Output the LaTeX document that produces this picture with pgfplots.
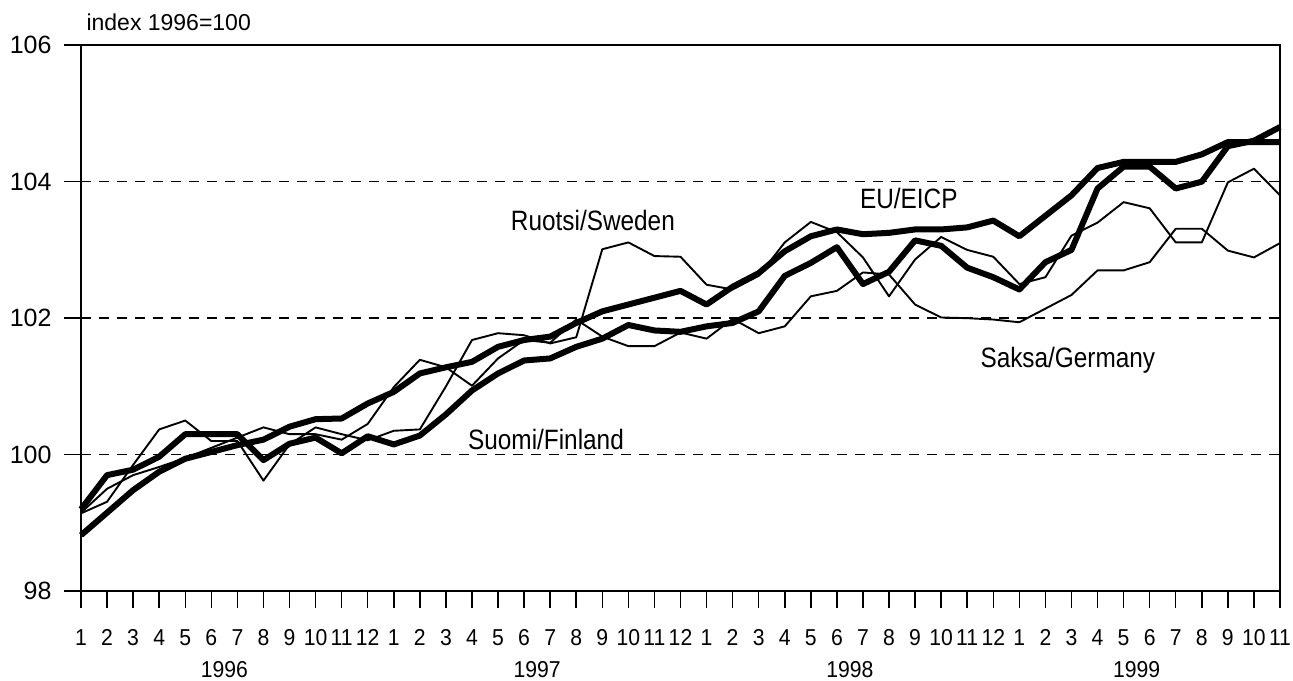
\documentclass[border=0pt]{standalone}
\usepackage{fontspec}
\setmainfont{Liberation Sans}
\newfontfamily\narrowfont{Liberation Sans}[FakeStretch=0.87]
\newfontfamily\ticksfont{Liberation Sans}[FakeStretch=0.92]
\usepackage{pgfplots}
\usepackage{pgfplotstable}
\pgfplotsset{compat=1.18}

\pgfplotstableread{
i  eu     fi     se     de
0  98.82  99.20  99.14  99.15
1  99.15  99.70  99.31  99.50
2  99.48  99.78  99.85  99.70
3  99.75  99.97  100.37 99.82
4  99.94  100.30 100.50 99.95
5  100.04 100.30 100.20 100.10
6  100.14 100.30 100.20 100.25
7  100.22 99.92  99.62  100.40
8  100.41 100.16 100.15 100.30
9  100.52 100.25 100.40 100.30
10 100.53 100.02 100.30 100.22
11 100.75 100.27 100.21 100.45
12 100.92 100.15 100.35 100.99
13 101.19 100.28 100.37 101.39
14 101.28 100.59 101.00 101.28
15 101.36 100.94 101.68 101.01
16 101.58 101.19 101.78 101.41
17 101.68 101.38 101.75 101.68
18 101.73 101.41 101.63 101.64
19 101.93 101.58 101.72 101.98
20 102.10 101.70 103.01 101.73
21 102.20 101.90 103.11 101.59
22 102.30 101.82 102.91 101.59
23 102.40 101.80 102.90 101.79
24 102.20 101.88 102.49 101.70
25 102.46 101.93 102.42 101.99
26 102.66 102.10 102.62 101.78
27 102.98 102.62 103.11 101.88
28 103.20 102.81 103.41 102.32
29 103.30 103.04 103.26 102.40
30 103.23 102.50 102.89 102.67
31 103.25 102.68 102.32 102.64
32 103.30 103.14 102.86 102.20
33 103.30 103.06 103.19 102.01
34 103.33 102.74 103.00 102.00
35 103.43 102.60 102.90 101.98
36 103.20 102.42 102.50 101.94
37 103.50 102.82 102.60 102.14
38 103.80 103.00 103.21 102.34
39 104.20 103.90 103.40 102.70
40 104.29 104.22 103.70 102.70
41 104.29 104.22 103.61 102.82
42 104.29 103.90 103.11 103.31
43 104.40 104.00 103.11 103.31
44 104.58 104.52 103.99 102.99
45 104.58 104.60 104.19 102.89
46 104.58 104.80 103.80 103.10
}\datatable

\begin{document}
\begin{tikzpicture}
\useasboundingbox (0,0) rectangle (1293pt,680pt);
\begin{axis}[
  at={(81pt,89pt)}, anchor=south west,
  scale only axis, width=1199pt, height=546pt,
  xmin=0, xmax=46, ymin=98, ymax=106,
  xtick={0,...,46},
  xticklabels={1,2,3,4,5,6,7,8,9,10,11,12,1,2,3,4,5,6,7,8,9,10,11,12,1,2,3,4,5,6,7,8,9,10,11,12,1,2,3,4,5,6,7,8,9,10,11},
  ytick={98,100,102,104,106},
  yticklabels={98,100,102,104,106},
  xtick pos=bottom, ytick pos=left,
  tick align=outside,
  major tick length=17pt,
  tick style={line width=1.5pt, black},
  axis line style={line width=2pt, black},
  ymajorgrids,
  grid style={dash pattern=on 10pt off 8pt, line width=1.6pt, black},
  xticklabel style={font=\fontsize{23}{23}\selectfont\ticksfont, anchor=base, yshift=-37pt},
  yticklabel style={font=\fontsize{25}{25}\selectfont, anchor=east, xshift=-9pt},
  clip=false,
]
\addplot[black, line width=1.9pt, line join=round] table[x=i, y=se] {\datatable};
\addplot[black, line width=1.9pt, line join=round] table[x=i, y=de] {\datatable};
\addplot[black, line width=6pt, line join=round] table[x=i, y=eu] {\datatable};
\addplot[black, line width=6pt, line join=round] table[x=i, y=fi] {\datatable};

\node[anchor=base west, xshift=2pt, yshift=15pt, font=\fontsize{23}{23}\selectfont] at (axis cs:0,106) {index 1996=100};

\node[anchor=base, font=\fontsize{28}{28}\selectfont\narrowfont] at (axis cs:19.64,103.29) {Ruotsi/Sweden};
\node[anchor=base, font=\fontsize{28}{28}\selectfont\narrowfont] at (axis cs:31.76,103.61) {EU/EICP};
\node[anchor=base, font=\fontsize{28}{28}\selectfont\narrowfont] at (axis cs:37.86,101.27) {Saksa/Germany};
\node[anchor=base, font=\fontsize{28}{28}\selectfont\narrowfont] at (axis cs:17.84,100.07) {Suomi/Finland};

\node[anchor=base, inner sep=0pt, yshift=-86pt, font=\fontsize{23}{23}\selectfont\ticksfont] at (axis cs:5.5,98) {1996};
\node[anchor=base, inner sep=0pt, yshift=-86pt, font=\fontsize{23}{23}\selectfont\ticksfont] at (axis cs:17.5,98) {1997};
\node[anchor=base, inner sep=0pt, yshift=-86pt, font=\fontsize{23}{23}\selectfont\ticksfont] at (axis cs:29.5,98) {1998};
\node[anchor=base, inner sep=0pt, yshift=-86pt, font=\fontsize{23}{23}\selectfont\ticksfont] at (axis cs:40.5,98) {1999};

\draw[line width=1.3pt] (axis cs:11.5,98) ++(0,-57pt) -- ++(0,-34pt);
\draw[line width=1.3pt] (axis cs:23.5,98) ++(0,-57pt) -- ++(0,-34pt);
\draw[line width=1.3pt] (axis cs:35.5,98) ++(0,-57pt) -- ++(0,-34pt);
\end{axis}
\end{tikzpicture}
\end{document}
